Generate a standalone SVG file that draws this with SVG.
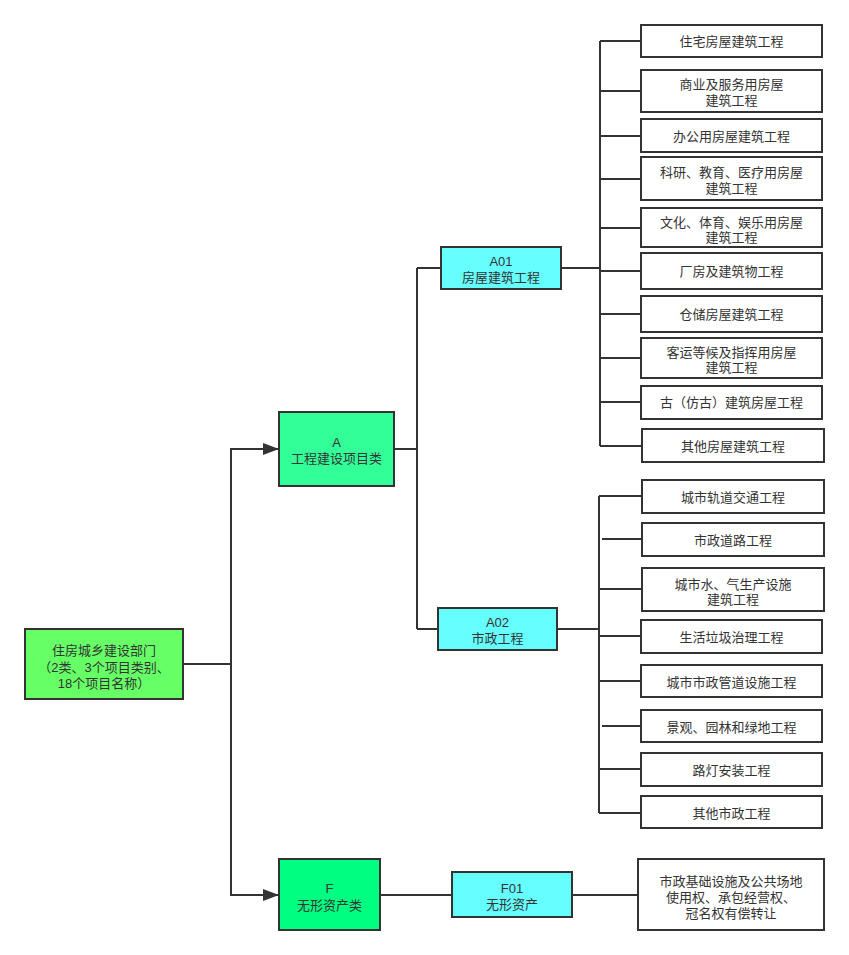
<svg xmlns="http://www.w3.org/2000/svg" width="849" height="955" viewBox="0 0 849 955">
<defs>
<style>
.n{stroke:#333;stroke-width:2}
.w{fill:#fff}
.c{fill:#66FFFF}
text{font-family:"Liberation Sans","Noto Sans CJK SC",sans-serif;font-size:13px;fill:#333;text-anchor:middle;dominant-baseline:central}
.l{fill:none;stroke:#333;stroke-width:2}
</style>
<marker id="ar" markerWidth="16" markerHeight="12" refX="16" refY="6" orient="auto" markerUnits="userSpaceOnUse">
<path d="M0,0 L16,6 L0,12 Z" fill="#333"/>
</marker>
</defs>
<rect width="849" height="955" fill="#fff"/>
<g id="connectors">
<path class="l" d="M183,664 H231 V449 H279" marker-end="url(#ar)"/>
<path class="l" d="M231,664 V895 H279" marker-end="url(#ar)"/>
<path class="l" d="M394,449 H417 M417,268 V629 M417,268 H441 M417,629 H438"/>
<path class="l" d="M561,268 H600 M600,41 V446 M600,41 H641 M600,91 H641 M600,136 H641 M600,179 H641 M600,228 H641 M600,271 H641 M600,314 H641 M600,358 H641 M600,402 H641 M600,446 H642"/>
<path class="l" d="M557,629 H599 M599,496 V813 M599,496 H642 M602,539 H642 M599,589 H642 M599,636 H641 M599,681 H641 M602,726 H641 M599,769 H641 M599,813 H641"/>
<path class="l" d="M380,895 H452 M572,895 H638"/>
</g>
<g id="root"><rect class="n" x="25" y="629" width="158" height="70" fill="#66FF66"/>
<text x="104" y="650">住房城乡建设部门<tspan x="104" dy="16.5">（2类、3个项目类别、</tspan><tspan x="104" dy="16.5">18个项目名称）</tspan></text></g>
<g id="A"><rect class="n" x="279" y="412" width="115" height="74" fill="#33FF99"/>
<text x="336.5" y="442">A<tspan x="336.5" dy="16">工程建设项目类</tspan></text></g>
<g id="F"><rect class="n" x="279" y="859" width="101" height="71" fill="#00FF80"/>
<text x="329.5" y="888">F<tspan x="329.5" dy="17">无形资产类</tspan></text></g>
<g id="A01"><rect class="n c" x="441" y="247" width="120" height="42"/>
<text x="501" y="261">A01<tspan x="501" dy="16">房屋建筑工程</tspan></text></g>
<g id="A02"><rect class="n c" x="438" y="608" width="119" height="42"/>
<text x="497.5" y="622">A02<tspan x="497.5" dy="16">市政工程</tspan></text></g>
<g id="F01"><rect class="n c" x="452" y="872" width="120" height="45"/>
<text x="512" y="888">F01<tspan x="512" dy="16">无形资产</tspan></text></g>
<g id="a1"><rect class="n w" x="641" y="25" width="181" height="32"/><text x="731.5" y="41">住宅房屋建筑工程</text></g>
<g id="a2"><rect class="n w" x="641" y="70" width="181" height="42"/><text x="731.5" y="84">商业及服务用房屋<tspan x="731.5" dy="16">建筑工程</tspan></text></g>
<g id="a3"><rect class="n w" x="641" y="119" width="181" height="33"/><text x="731.5" y="136">办公用房屋建筑工程</text></g>
<g id="a4"><rect class="n w" x="641" y="157" width="181" height="43"/><text x="731.5" y="172">科研、教育、医疗用房屋<tspan x="731.5" dy="16">建筑工程</tspan></text></g>
<g id="a5"><rect class="n w" x="641" y="208" width="181" height="39"/><text x="731.5" y="222">文化、体育、娱乐用房屋<tspan x="731.5" dy="15">建筑工程</tspan></text></g>
<g id="a6"><rect class="n w" x="641" y="253" width="181" height="36"/><text x="731.5" y="271">厂房及建筑物工程</text></g>
<g id="a7"><rect class="n w" x="641" y="296" width="181" height="36"/><text x="731.5" y="314">仓储房屋建筑工程</text></g>
<g id="a8"><rect class="n w" x="641" y="338" width="181" height="40"/><text x="731.5" y="352">客运等候及指挥用房屋<tspan x="731.5" dy="15">建筑工程</tspan></text></g>
<g id="a9"><rect class="n w" x="641" y="386" width="181" height="33"/><text x="731.5" y="402">古（仿古）建筑房屋工程</text></g>
<g id="a10"><rect class="n w" x="642" y="429" width="182" height="33"/><text x="733" y="446">其他房屋建筑工程</text></g>
<g id="b1"><rect class="n w" x="642" y="480" width="182" height="33"/><text x="733" y="497">城市轨道交通工程</text></g>
<g id="b2"><rect class="n w" x="642" y="523" width="182" height="33"/><text x="733" y="540">市政道路工程</text></g>
<g id="b3"><rect class="n w" x="642" y="568" width="182" height="43"/><text x="733" y="584">城市水、气生产设施<tspan x="733" dy="15">建筑工程</tspan></text></g>
<g id="b4"><rect class="n w" x="641" y="620" width="181" height="33"/><text x="731.5" y="637">生活垃圾治理工程</text></g>
<g id="b5"><rect class="n w" x="641" y="665" width="181" height="32"/><text x="731.5" y="682">城市市政管道设施工程</text></g>
<g id="b6"><rect class="n w" x="641" y="710" width="181" height="32"/><text x="731.5" y="727">景观、园林和绿地工程</text></g>
<g id="b7"><rect class="n w" x="641" y="753" width="181" height="33"/><text x="731.5" y="770">路灯安装工程</text></g>
<g id="b8"><rect class="n w" x="641" y="796" width="181" height="32"/><text x="731.5" y="813">其他市政工程</text></g>
<g id="f1"><rect class="n w" x="638" y="859" width="186" height="71"/><text x="731" y="881">市政基础设施及公共场地<tspan x="731" dy="16">使用权、承包经营权、</tspan><tspan x="731" dy="16">冠名权有偿转让</tspan></text></g>
</svg>
